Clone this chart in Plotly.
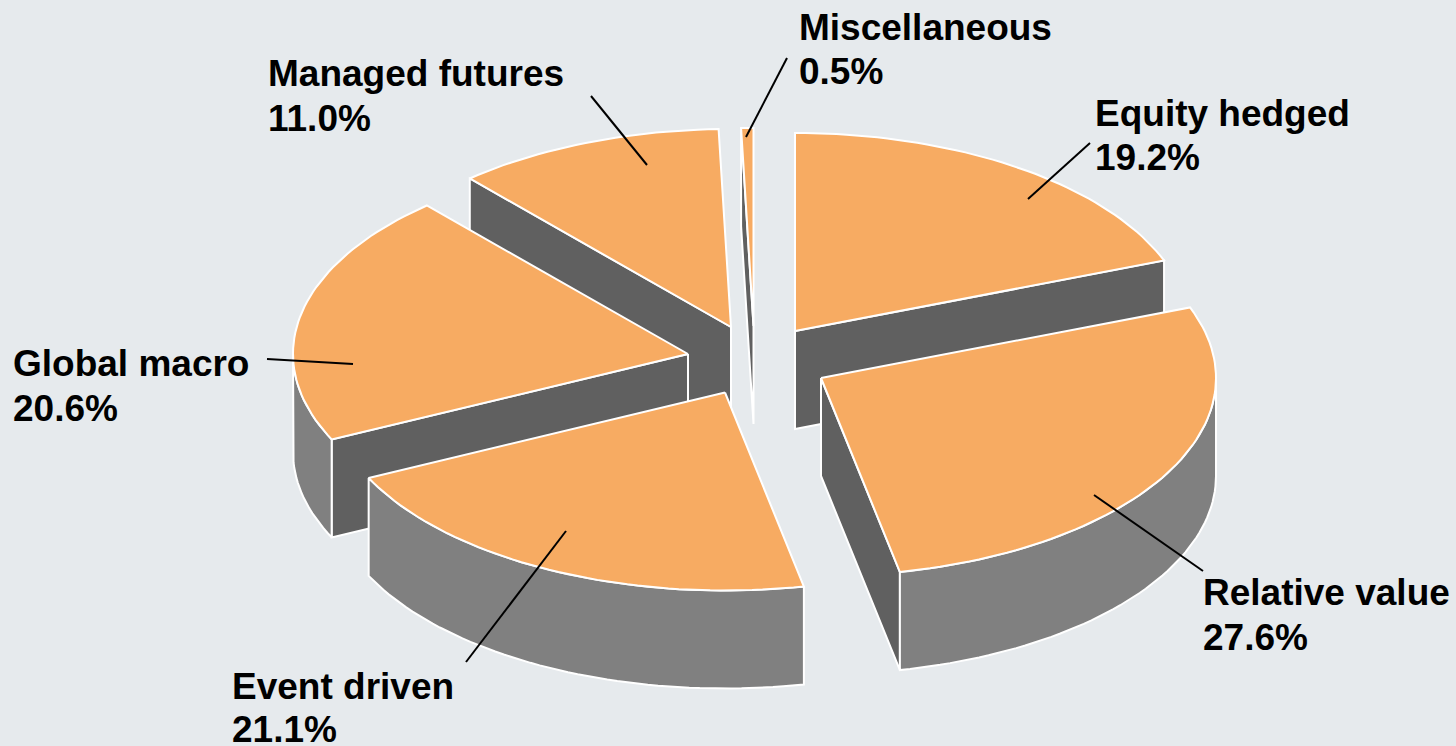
import math
import plotly.graph_objects as go

# Data
categories = ["Equity hedged", "Relative value", "Event driven", "Global macro", "Managed futures", "Miscellaneous"]
shares = [19.2, 27.6, 21.1, 20.6, 11.0, 0.5]

# Geometry (canvas pixels)
W, H = 1456, 746
RX, RY, DEPTH = 395, 198, 98
apexes = {
    "Equity hedged": (795, 331),
    "Relative value": (821, 378),
    "Event driven": (725, 392.5),
    "Global macro": (688, 354),
    "Managed futures": (731, 327),
    "Miscellaneous": (753.5, 326),
}
label_pos = {
    "Equity hedged": (1094, 113, 157),
    "Relative value": (1202, 592, 637),
    "Event driven": (231, 686, 729),
    "Global macro": (12, 363, 408),
    "Managed futures": (267, 73, 118),
    "Miscellaneous": (798, 27, 71),
}
leaders = {
    "Equity hedged": ((1090, 143), (1028, 199)),
    "Relative value": ((1203, 571), (1094, 495)),
    "Event driven": ((466, 662), (566, 531)),
    "Global macro": ((267, 359), (353, 364)),
    "Managed futures": ((591, 96), (647, 165)),
    "Miscellaneous": ((787, 58), (746, 137)),
}
draw_order = ["Miscellaneous", "Managed futures", "Equity hedged", "Global macro", "Relative value", "Event driven"]

TOP, WALL, CUT, BG, EDGE = "#F7AB62", "#808080", "#606060", "#E6EAED", "#FFFFFF"

total = sum(shares)
spans = {}
acc = 0.0
for name, v in zip(categories, shares):
    spans[name] = (acc / total * 2 * math.pi, (acc + v) / total * 2 * math.pi)
    acc += v


def rim(apex, angle):
    return apex[0] + RX * math.sin(angle), apex[1] - RY * math.cos(angle)


def arc(apex, a, b):
    n = max(2, int(abs(b - a) / math.radians(1.5)) + 1)
    return [rim(apex, a + (b - a) * i / (n - 1)) for i in range(n)]


fig = go.Figure()


def poly(pts, fill):
    xs = [p[0] for p in pts] + [pts[0][0]]
    ys = [p[1] for p in pts] + [pts[0][1]]
    fig.add_trace(go.Scatter(x=xs, y=ys, mode="lines", fill="toself", fillcolor=fill,
                             line=dict(color=EDGE, width=2), hoverinfo="skip", showlegend=False))


def cut_wall(apex, angle):
    r = rim(apex, angle)
    poly([apex, r, (r[0], r[1] + DEPTH), (apex[0], apex[1] + DEPTH)], CUT)


for name in draw_order:
    a, b = spans[name]
    ap = apexes[name]
    if math.sin(a) < -1e-6:
        cut_wall(ap, a)
    if math.sin(b) > 1e-6:
        cut_wall(ap, b)
    lo, hi = max(a, math.pi / 2), min(b, 3 * math.pi / 2)
    if lo < hi:
        front = arc(ap, lo, hi)
        poly(front + [(x, y + DEPTH) for x, y in reversed(front)], WALL)
    poly([ap] + arc(ap, a, b), TOP)

for name in categories:
    (x0, y0), (x1, y1) = leaders[name]
    fig.add_trace(go.Scatter(x=[x0, x1], y=[y0, y1], mode="lines", line=dict(color="#000000", width=2),
                             hoverinfo="skip", showlegend=False))

annotations = []
for name, v in zip(categories, shares):
    x, y1, y2 = label_pos[name]
    for text, y in ((name, y1), (f"{v:.1f}%", y2)):
        annotations.append(dict(x=x, y=y, xref="x", yref="y", xanchor="left", yanchor="middle", align="left",
                                showarrow=False, borderpad=0, text=f"<b>{text}</b>",
                                font=dict(family="Liberation Sans", size=37, color="#000000")))

fig.update_layout(
    width=W, height=H, margin=dict(l=0, r=0, t=0, b=0), autosize=False,
    paper_bgcolor=BG, plot_bgcolor=BG, showlegend=False, annotations=annotations,
    xaxis=dict(range=[0, W], visible=False, fixedrange=True),
    yaxis=dict(range=[H, 0], visible=False, fixedrange=True),
)
fig.write_html("out.html", config={"displayModeBar": False},
               post_script="document.body.style.margin='0';document.documentElement.style.overflow='hidden';document.body.style.background='" + BG + "';")
